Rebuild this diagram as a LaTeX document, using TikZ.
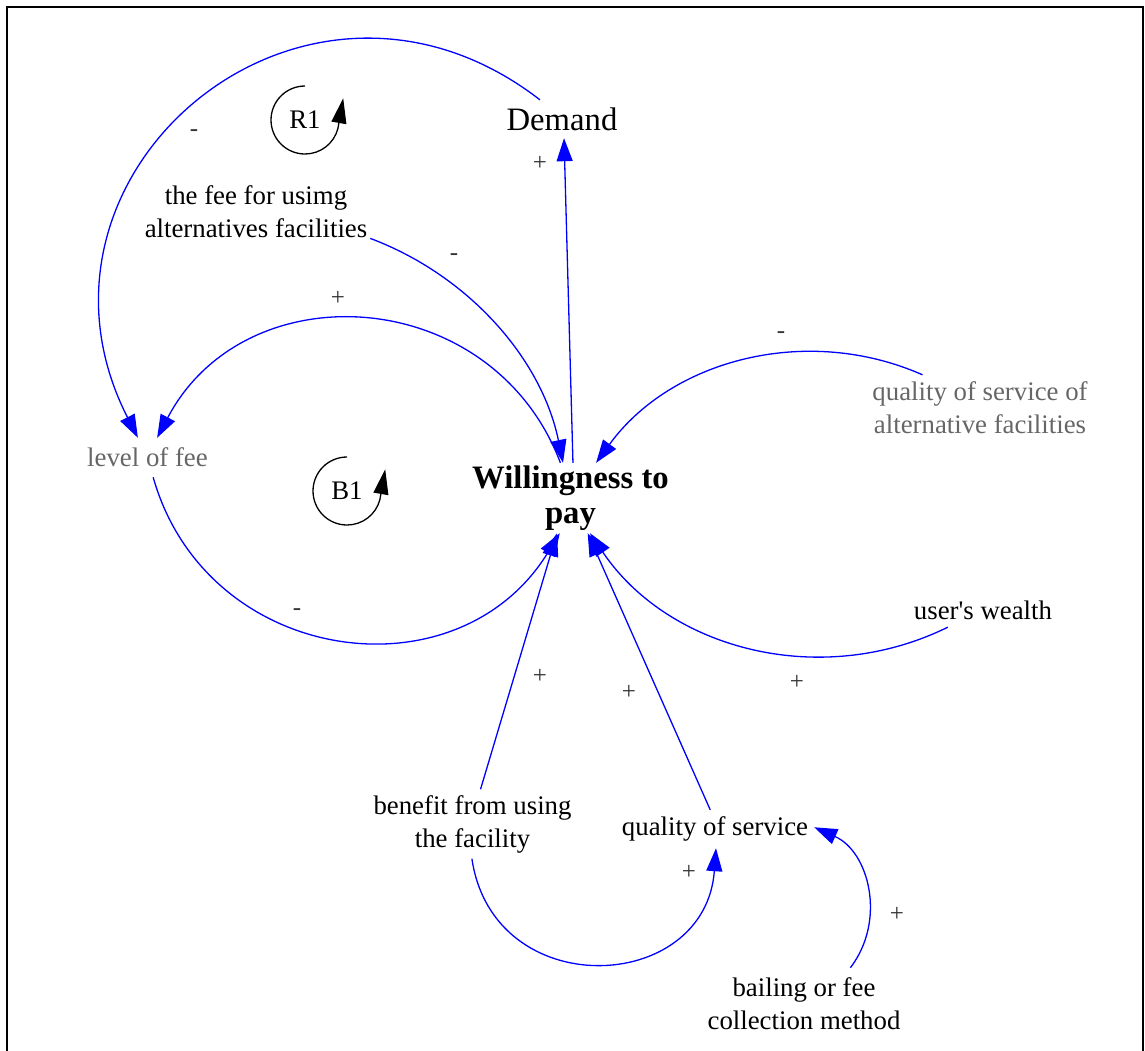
\documentclass[tikz,border=0pt]{standalone}
\usepackage{fontspec}
\setmainfont{Liberation Serif}
\usetikzlibrary{arrows.meta}
\definecolor{vargray}{RGB}{102,102,102}
\tikzset{
  cld/.style={x=1pt,y=1pt},
  var/.style={inner sep=0pt,align=center,font=\fontsize{26.8}{33}\selectfont},
  bigvar/.style={var,font=\fontsize{32.7}{35}\selectfont},
  keyvar/.style={var,font=\fontsize{32.7}{35}\selectfont\bfseries},
  ghost/.style={var,text=vargray},
  link/.style={draw=blue,line width=1.3pt,-{Triangle[length=23pt,width=16pt]}},
  polarity/.style={inner sep=0pt,font=\fontsize{25}{25}\selectfont,text=black!80},
  loopmark/.style={draw=black,line width=1.3pt,-{Triangle[length=25pt,width=15pt]}},
}

\begin{document}
\begin{tikzpicture}[cld]
  \useasboundingbox (0,0) rectangle (1145,-1050);
  \draw[line width=1.7pt] (7,-7) rectangle (1143,-1080);

  \node[bigvar,minimum width=121pt,minimum height=38pt] (dem) at (562,-119) {Demand};
  \node[var,minimum width=228pt,minimum height=60pt] (alt) at (256,-212) {the fee for usimg\\alternatives facilities};
  \node[ghost,minimum width=128pt,minimum height=39pt] (lof) at (147.5,-457.5) {level of fee};
  \node[keyvar,minimum width=201pt,minimum height=70pt] (wtp) at (570.5,-498) {Willingness to\\pay};
  \node[ghost,minimum width=224pt,minimum height=66pt] (qalt) at (980,-408) {quality of service of\\alternative facilities};
  \node[var,minimum width=152pt,minimum height=34pt] (wealth) at (983,-610) {user\textquotesingle s wealth};
  \node[var,minimum width=206pt,minimum height=69pt] (benefit) at (472.5,-824) {benefit from using\\the facility};
  \node[var,minimum width=198pt,minimum height=38pt] (qos) at (715,-829) {quality of service};
  \node[var,minimum width=208pt,minimum height=72pt] (bail) at (804,-1004) {bailing or fee\\collection method};

  \node[var] (r1) at (305,-120) {R1};
  \node[var] (b1) at (347,-491) {B1};
  \draw[loopmark] ([yshift=34pt]r1.center) arc[start angle=90,end angle=345,radius=34] -- ++(80:31);
  \draw[loopmark] ([yshift=34pt]b1.center) arc[start angle=90,end angle=345,radius=34] -- ++(80:31);

  \path[link] (dem.139) .. controls +(142.3:297.5) and +(117:297.5) .. (lof.116);
  \path[link] (alt.347.6) .. controls +(-20.6:105.7) and +(101.6:105.7) .. (wtp.102);
  \path[link] (wtp.106.7) .. controls +(110.8:190.7) and +(62.2:190.7) .. (lof.64);
  \path[link] (wtp.86) -- (dem.276);
  \path[link] (qalt.150) .. controls +(156.2:127) and +(54:127) .. (wtp.54);
  \path[link] (lof.286) .. controls +(285.8:195.6) and +(238.5:195.6) .. (wtp.253.3);
  \path[link] (benefit.77.7) -- (wtp.249);
  \path[link] (qos.104.7) -- (wtp.296.6);
  \path[link] (wealth.206) .. controls +(206.2:140.9) and +(304:140.9) .. (wtp.299);
  \path[link] (benefit.269) .. controls +(278.4:146.8) and +(265.8:146.8) .. (qos.273);
  \path[link] (bail.38) .. controls +(52.6:59.9) and +(336.1:59.9) .. (qos.1.2);

  \node[polarity] (s1) at (194,-133) {-};
  \node[polarity] (s2) at (454,-257) {-};
  \node[polarity] (s3) at (338,-298) {+};
  \node[polarity] (s4) at (540,-163) {+};
  \node[polarity] (s5) at (781,-335) {-};
  \node[polarity] (s6) at (297,-612) {-};
  \node[polarity] (s7) at (540,-676) {+};
  \node[polarity] (s8) at (629,-692) {+};
  \node[polarity] (s9) at (797,-682) {+};
  \node[polarity] (s10) at (689,-872) {+};
  \node[polarity] (s11) at (897,-914) {+};
\end{tikzpicture}
\end{document}
